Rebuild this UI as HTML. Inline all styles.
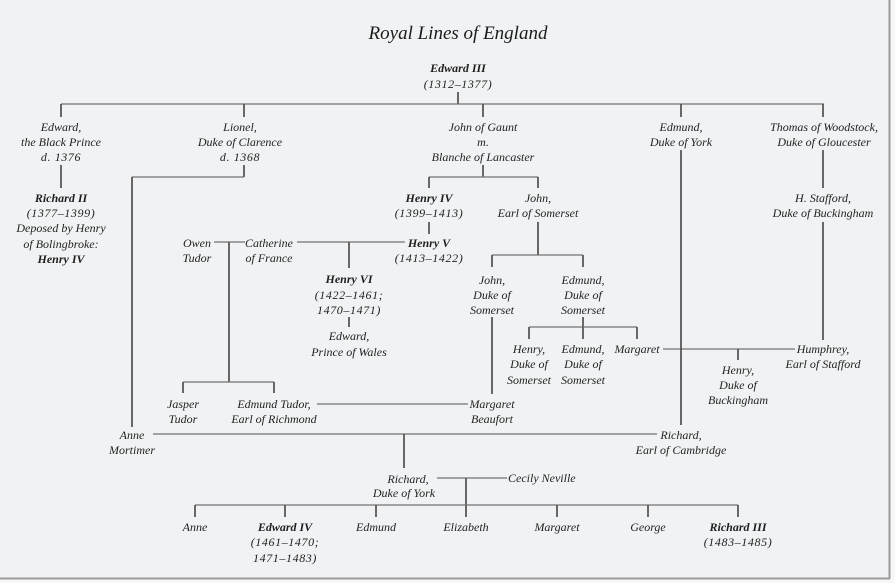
<!DOCTYPE html>
<html>
<head>
<meta charset="utf-8">
<style>
  html,body{margin:0;padding:0;background:#f8f8f8;}
  body{width:895px;height:583px;overflow:hidden;position:relative;}
  svg{position:absolute;left:0;top:0;}
  text{font-family:"Liberation Serif",serif;font-style:italic;font-size:12px;fill:#1f1f1f;text-anchor:middle;}
  .b{font-weight:bold;}
  .n{letter-spacing:0.6px;}
  .s{text-anchor:start;}
  .v{stroke:#4f4f4f;stroke-width:1.7;fill:none;}
  .h{stroke:#737373;stroke-width:1.3;fill:none;}
</style>
</head>
<body>
<svg width="895" height="583" viewBox="0 0 895 583" xmlns="http://www.w3.org/2000/svg">
  <rect x="0" y="0" width="895" height="583" fill="#f8f8f8"/>
  <rect x="0" y="0" width="889" height="578" fill="#f1f2f3"/>
  <line x1="889.5" y1="0" x2="889.5" y2="579" stroke="#9a9a9a" stroke-width="2"/>
  <line x1="0" y1="578.5" x2="890" y2="578.5" stroke="#9a9a9a" stroke-width="2"/>

  <!-- title -->
  <text x="458" y="39" style="font-size:19px;fill:#1a1a1a;">Royal Lines of England</text>

  <!-- lines -->
  <g>
    <line class="v" x1="458" y1="92" x2="458" y2="104"/>
    <line class="h" x1="61" y1="104" x2="824" y2="104"/>
    <line class="v" x1="61" y1="104" x2="61" y2="117"/>
    <line class="v" x1="244" y1="104" x2="244" y2="117"/>
    <line class="v" x1="483" y1="104" x2="483" y2="117"/>
    <line class="v" x1="681" y1="104" x2="681" y2="117"/>
    <line class="v" x1="823" y1="104" x2="823" y2="117"/>

    <line class="v" x1="61" y1="165" x2="61" y2="188"/>

    <line class="v" x1="244" y1="165" x2="244" y2="177"/>
    <line class="h" x1="132" y1="177" x2="244" y2="177"/>
    <line class="v" x1="132" y1="177" x2="132" y2="427"/>

    <line class="v" x1="483" y1="165" x2="483" y2="177"/>
    <line class="h" x1="429" y1="177" x2="538" y2="177"/>
    <line class="v" x1="429" y1="177" x2="429" y2="188"/>
    <line class="v" x1="538" y1="177" x2="538" y2="188"/>

    <line class="v" x1="429" y1="222" x2="429" y2="234"/>

    <line class="v" x1="538" y1="222" x2="538" y2="255"/>
    <line class="h" x1="492" y1="255" x2="583" y2="255"/>
    <line class="v" x1="492" y1="255" x2="492" y2="267"/>
    <line class="v" x1="583" y1="255" x2="583" y2="267"/>

    <line class="v" x1="492" y1="317" x2="492" y2="394"/>

    <line class="v" x1="583" y1="317" x2="583" y2="327"/>
    <line class="h" x1="529" y1="327" x2="637" y2="327"/>
    <line class="v" x1="529" y1="327" x2="529" y2="339"/>
    <line class="v" x1="583" y1="327" x2="583" y2="339"/>
    <line class="v" x1="637" y1="327" x2="637" y2="339"/>

    <line class="h" x1="663" y1="349" x2="795" y2="349"/>
    <line class="v" x1="738" y1="349" x2="738" y2="360"/>

    <line class="v" x1="681" y1="150" x2="681" y2="425"/>

    <line class="v" x1="823" y1="150" x2="823" y2="188"/>
    <line class="v" x1="823" y1="222" x2="823" y2="340"/>

    <line class="h" x1="214" y1="242" x2="245" y2="242"/>
    <line class="v" x1="229" y1="242" x2="229" y2="382"/>
    <line class="h" x1="183" y1="382" x2="274" y2="382"/>
    <line class="v" x1="183" y1="382" x2="183" y2="393"/>
    <line class="v" x1="274" y1="382" x2="274" y2="393"/>

    <line class="h" x1="297" y1="242" x2="405" y2="242"/>
    <line class="v" x1="349" y1="242" x2="349" y2="268"/>
    <line class="v" x1="349" y1="317" x2="349" y2="327"/>

    <line class="h" x1="317" y1="404" x2="468" y2="404"/>

    <line class="h" x1="153" y1="434" x2="657" y2="434"/>
    <line class="v" x1="404" y1="434" x2="404" y2="468"/>

    <line class="h" x1="437" y1="478" x2="507" y2="478"/>
    <line class="v" x1="466" y1="478" x2="466" y2="517"/>
    <line class="h" x1="195" y1="505" x2="738" y2="505"/>
    <line class="v" x1="195" y1="505" x2="195" y2="517"/>
    <line class="v" x1="285" y1="505" x2="285" y2="517"/>
    <line class="v" x1="376" y1="505" x2="376" y2="517"/>
    <line class="v" x1="557" y1="505" x2="557" y2="517"/>
    <line class="v" x1="648" y1="505" x2="648" y2="517"/>
    <line class="v" x1="738" y1="505" x2="738" y2="517"/>
  </g>

  <!-- texts -->
  <text class="b" x="458" y="72">Edward III</text>
  <text class="n" x="458" y="88">(1312–1377)</text>

  <text x="61" y="131">Edward,</text>
  <text x="61" y="146">the Black Prince</text>
  <text class="n" x="61" y="161">d. 1376</text>

  <text x="240" y="131">Lionel,</text>
  <text x="240" y="146">Duke of Clarence</text>
  <text class="n" x="240" y="161">d. 1368</text>

  <text x="483" y="131">John of Gaunt</text>
  <text x="483" y="146">m.</text>
  <text x="483" y="161">Blanche of Lancaster</text>

  <text x="681" y="131">Edmund,</text>
  <text x="681" y="146">Duke of York</text>

  <text x="824" y="131">Thomas of Woodstock,</text>
  <text x="824" y="146">Duke of Gloucester</text>

  <text class="b" x="61" y="202">Richard II</text>
  <text class="n" x="61" y="217">(1377–1399)</text>
  <text x="61" y="232">Deposed by Henry</text>
  <text x="61" y="248">of Bolingbroke:</text>
  <text class="b" x="61" y="263">Henry IV</text>

  <text class="b" x="429" y="202">Henry IV</text>
  <text class="n" x="429" y="217">(1399–1413)</text>

  <text x="538" y="202">John,</text>
  <text x="538" y="217">Earl of Somerset</text>

  <text x="823" y="202">H. Stafford,</text>
  <text x="823" y="217">Duke of Buckingham</text>

  <text x="197" y="247">Owen</text>
  <text x="197" y="262">Tudor</text>

  <text x="269" y="247">Catherine</text>
  <text x="269" y="262">of France</text>

  <text class="b" x="429" y="247">Henry V</text>
  <text class="n" x="429" y="262">(1413–1422)</text>

  <text class="b" x="349" y="283">Henry VI</text>
  <text class="n" x="349" y="299">(1422–1461;</text>
  <text class="n" x="349" y="314">1470–1471)</text>
  <text x="349" y="340">Edward,</text>
  <text x="349" y="356">Prince of Wales</text>

  <text x="492" y="284">John,</text>
  <text x="492" y="299">Duke of</text>
  <text x="492" y="314">Somerset</text>

  <text x="583" y="284">Edmund,</text>
  <text x="583" y="299">Duke of</text>
  <text x="583" y="314">Somerset</text>

  <text x="529" y="353">Henry,</text>
  <text x="529" y="368">Duke of</text>
  <text x="529" y="384">Somerset</text>

  <text x="583" y="353">Edmund,</text>
  <text x="583" y="368">Duke of</text>
  <text x="583" y="384">Somerset</text>

  <text x="637" y="353">Margaret</text>

  <text x="738" y="374">Henry,</text>
  <text x="738" y="389">Duke of</text>
  <text x="738" y="404">Buckingham</text>

  <text x="823" y="353">Humphrey,</text>
  <text x="823" y="368">Earl of Stafford</text>

  <text x="183" y="408">Jasper</text>
  <text x="183" y="423">Tudor</text>

  <text x="274" y="408">Edmund Tudor,</text>
  <text x="274" y="423">Earl of Richmond</text>

  <text x="492" y="408">Margaret</text>
  <text x="492" y="423">Beaufort</text>

  <text x="132" y="439">Anne</text>
  <text x="132" y="454">Mortimer</text>

  <text x="681" y="439">Richard,</text>
  <text x="681" y="454">Earl of Cambridge</text>

  <text x="408" y="483">Richard,</text>
  <text x="404" y="497">Duke of York</text>

  <text class="s" x="508" y="482">Cecily Neville</text>

  <text x="195" y="531">Anne</text>
  <text class="b" x="285" y="531">Edward IV</text>
  <text class="n" x="285" y="546">(1461–1470;</text>
  <text class="n" x="285" y="562">1471–1483)</text>
  <text x="376" y="531">Edmund</text>
  <text x="466" y="531">Elizabeth</text>
  <text x="557" y="531">Margaret</text>
  <text x="648" y="531">George</text>
  <text class="b" x="738" y="531">Richard III</text>
  <text class="n" x="738" y="546">(1483–1485)</text>
</svg>
</body>
</html>
